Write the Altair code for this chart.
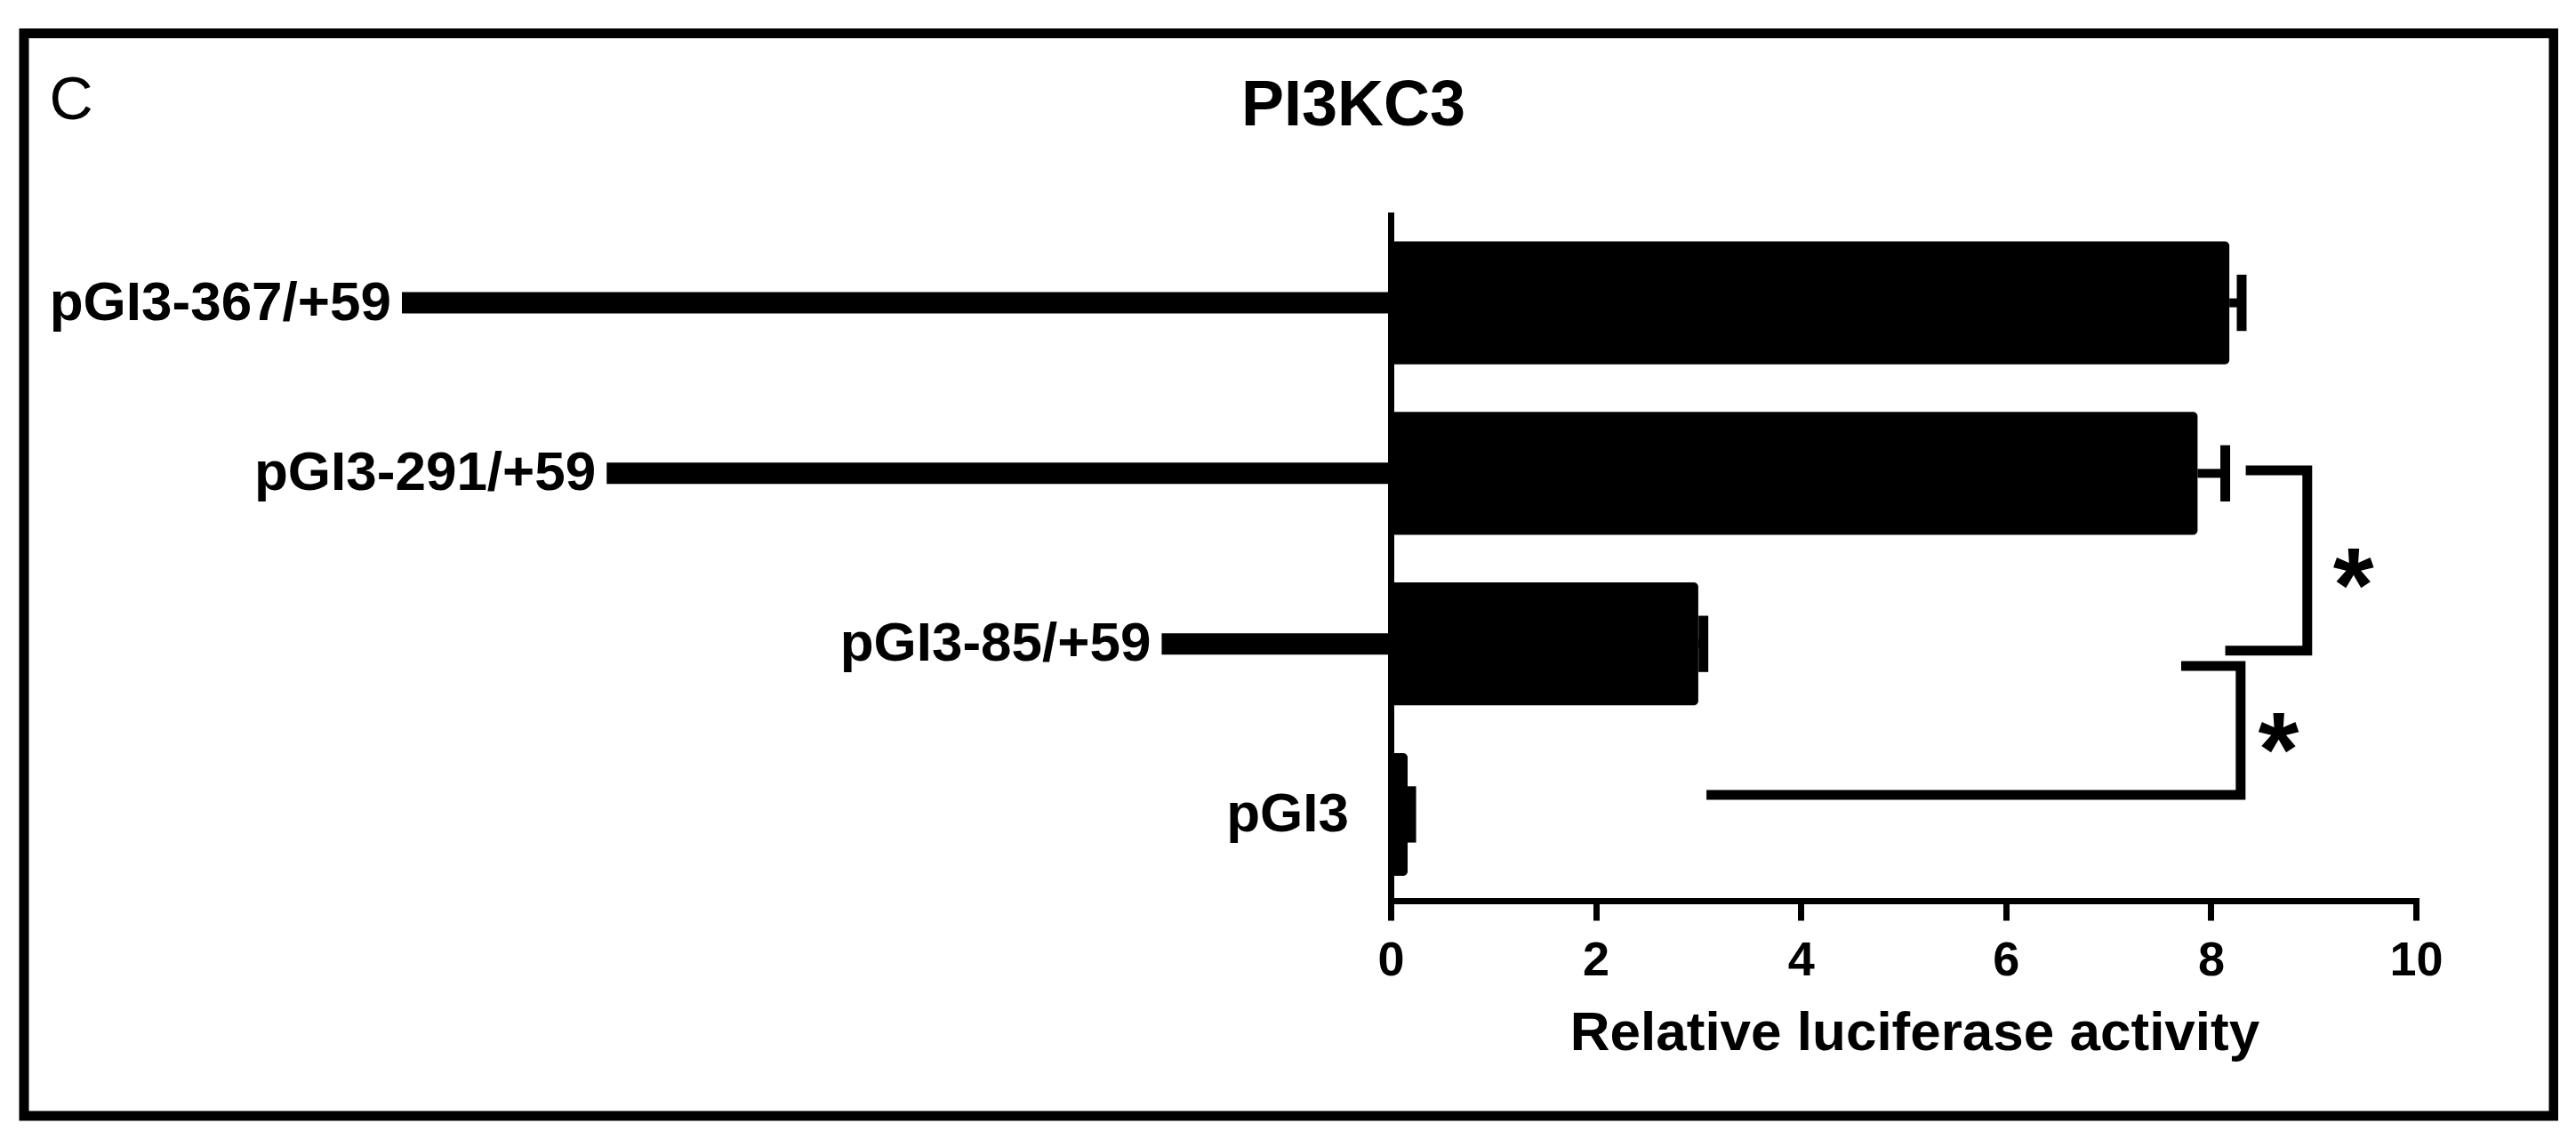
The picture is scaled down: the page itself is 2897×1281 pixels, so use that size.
import altair as alt
import pandas as pd

# ---------------- data ----------------
constructs = ["pGI3-367/+59", "pGI3-291/+59", "pGI3-85/+59", "pGI3"]
promoter_bp = [367, 291, 85, 0]          # 5' end of each promoter fragment
activity = [8.18, 7.87, 3.00, 0.165]     # relative luciferase activity (mean)
sem = [0.12, 0.27, 0.05, 0.035]          # upper error (SEM)
x_ticks = [0, 2, 4, 6, 8, 10]

# significance brackets: vertices (x in activity units, row position)
bracket_id = [1, 1, 1, 1, 2, 2, 2, 2]
bracket_x = [8.34, 8.94, 8.94, 8.14, 7.71, 8.29, 8.29, 3.08]
bracket_row = [0.983, 0.983, 2.04, 2.04, 2.13, 2.13, 2.885, 2.885]
star_x = [9.39, 8.66]
star_row = [1.52, 2.485]
star_text = ["*", "*"]

panel_letter = ["C"]
panel_title = ["PI3KC3"]
x_title = "Relative luciferase activity"

# ---------------- styling constants ----------------
FONT = "Liberation Sans"
BAR_HALF = 0.36
CAP_HALF = 0.165

df = pd.DataFrame({"construct": constructs, "bp": promoter_bp,
                   "activity": activity, "sem": sem})
df["row"] = list(range(len(df)))
df["start"] = -df["bp"]
df["upper"] = df["activity"] + df["sem"]
df["lo"] = df["row"] - BAR_HALF
df["hi"] = df["row"] + BAR_HALF
df["cap_lo"] = df["row"] - CAP_HALF
df["cap_hi"] = df["row"] + CAP_HALF

br = pd.DataFrame({"bid": bracket_id, "bx": bracket_x, "brow": bracket_row})
br["ord"] = list(range(len(br)))
stars = pd.DataFrame({"sx": star_x, "srow": star_row, "s": star_text})

X_SCALE = alt.Scale(domain=[0, 10], nice=False, zero=True)
P_SCALE = alt.Scale(domain=[-400, 0], range=[-1212, 0], nice=False, zero=False)
Y_SCALE = alt.Scale(domain=[-0.514, 3.506], reverse=True, nice=False, zero=False)

base = alt.Chart(df)

# ---------------- main panel ----------------
bars = base.mark_bar(color="black", cornerRadius=5).encode(
    x=alt.X("activity:Q", scale=X_SCALE,
            axis=alt.Axis(values=x_ticks, format="d", title=x_title, grid=False,
                          domainColor="black", domainWidth=7, domainCap="square",
                          tickColor="black", tickWidth=7, tickSize=22,
                          labelFont=FONT, labelFontSize=54, labelFontWeight="bold",
                          labelColor="black", labelPadding=18, labelFlush=False,
                          titleFont=FONT, titleFontSize=62, titleFontWeight="bold",
                          titleColor="black", titleX=589, titleY=167,
                          titleBaseline="alphabetic", titleAlign="center")),
    x2=alt.datum(0),
    y=alt.Y("lo:Q", scale=Y_SCALE,
            axis=alt.Axis(labels=False, ticks=False, title=None, grid=False,
                          domain=True, domainColor="black", domainWidth=7,
                          domainCap="square")),
    y2="hi:Q",
)

err = base.mark_rule(color="black", strokeWidth=10).encode(
    x=alt.X("activity:Q", scale=X_SCALE, axis=None),
    x2="upper:Q",
    y=alt.Y("row:Q", scale=Y_SCALE),
)

caps = base.mark_rule(color="black", strokeWidth=11).encode(
    x=alt.X("upper:Q", scale=X_SCALE, axis=None),
    y=alt.Y("cap_lo:Q", scale=Y_SCALE),
    y2="cap_hi:Q",
)

brackets = alt.Chart(br).mark_line(color="black", strokeWidth=11,
                                   strokeJoin="miter", strokeCap="butt").encode(
    x=alt.X("bx:Q", scale=X_SCALE, axis=None),
    y=alt.Y("brow:Q", scale=Y_SCALE),
    detail="bid:N",
    order="ord:Q",
)

star_marks = alt.Chart(stars).mark_text(font=FONT, fontSize=118, fontWeight="bold",
                                        color="black", align="center",
                                        baseline="alphabetic", dy=67).encode(
    x=alt.X("sx:Q", scale=X_SCALE, axis=None),
    y=alt.Y("srow:Q", scale=Y_SCALE),
    text="s:N",
)

frame = alt.Chart(pd.DataFrame({"k": [0]})).mark_rect(
    fillOpacity=0, stroke="black", strokeWidth=11).encode(
    x=alt.value(-1537), x2=alt.value(1308), y=alt.value(-204.5), y2=alt.value(1013))

letter = alt.Chart(pd.DataFrame({"t": panel_letter})).mark_text(
    font=FONT, fontSize=68, color="black", align="center", baseline="middle").encode(
    x=alt.value(-1484), y=alt.value(-128), text="t:N")

title = alt.Chart(pd.DataFrame({"t": panel_title})).mark_text(
    font=FONT, fontSize=72, fontWeight="bold", color="black",
    align="center", baseline="middle").encode(
    x=alt.value(-42), y=alt.value(-123), text="t:N")

# ---------------- promoter fragment lines + labels (own x scale) ----------------
lines = base.transform_filter("datum.bp > 0").mark_rule(
    color="black", strokeWidth=24, strokeCap="butt").encode(
    x=alt.X("start:Q", scale=P_SCALE, axis=None),
    x2=alt.datum(0),
    y=alt.Y("row:Q", scale=Y_SCALE),
)

labels = base.transform_filter("datum.bp > 0").mark_text(
    align="right", baseline="middle", dx=-12, font=FONT, fontSize=62,
    fontWeight="bold", color="black").encode(
    x=alt.X("start:Q", scale=P_SCALE, axis=None),
    y=alt.Y("row:Q", scale=Y_SCALE),
    text="construct:N",
)

label_empty = base.transform_filter("datum.bp == 0").mark_text(
    align="right", baseline="middle", dx=-47, font=FONT, fontSize=62,
    fontWeight="bold", color="black").encode(
    x=alt.X("start:Q", scale=P_SCALE, axis=None),
    y=alt.Y("row:Q", scale=Y_SCALE),
    text="construct:N",
)

chart = alt.layer(
    bars, err, caps, brackets, star_marks,
    lines, labels, label_empty,
    frame, letter, title,
).resolve_scale(x="independent").properties(
    width=1153, height=771,
    padding={"left": 1556, "top": 234, "right": 160, "bottom": 250},
    autosize=alt.AutoSizeParams(type="none"),
    background="white",
).configure_view(stroke=None)

chart.save("out.html", embed_options={"renderer": "svg", "actions": False})
